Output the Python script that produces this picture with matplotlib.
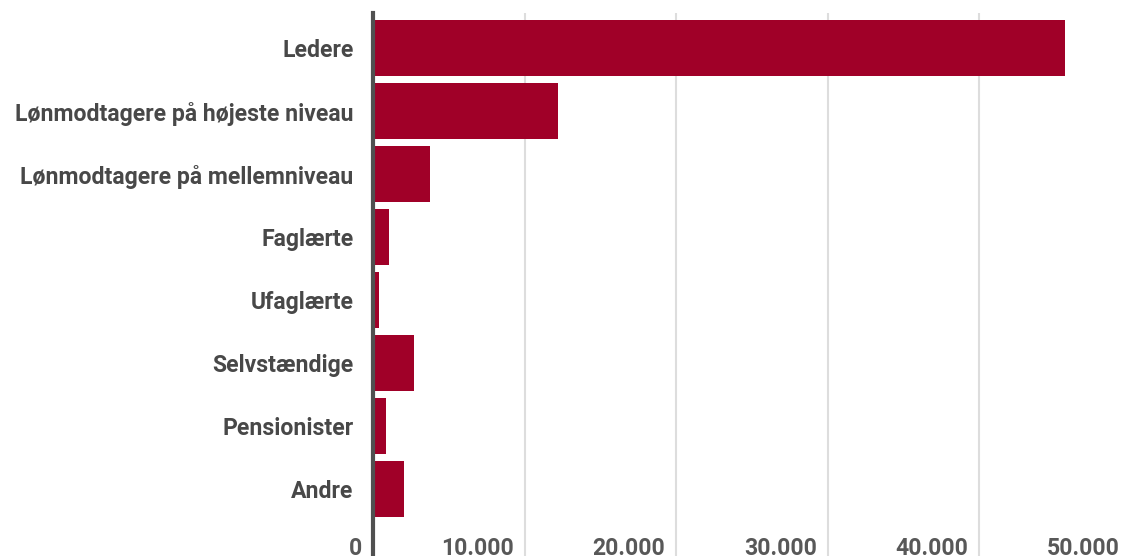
import matplotlib.pyplot as plt
from matplotlib.transforms import ScaledTranslation

categories = ["Ledere", "Lønmodtagere på højeste niveau", "Lønmodtagere på mellemniveau",
              "Faglærte", "Ufaglærte", "Selvstændige", "Pensionister", "Andre"]
values = [45650, 12200, 3760, 1075, 415, 2680, 880, 2020]
xticks = [0, 10000, 20000, 30000, 40000, 50000]
xtick_labels = ["0", "10.000", "20.000", "30.000", "40.000", "50.000"]

plt.rcParams['font.family'] = ['Roboto', 'DejaVu Sans']

W, H = 1129, 556
fig = plt.figure(figsize=(W / 100, H / 100), dpi=100)
ax = fig.add_axes([373 / W, 0, (1131 - 373) / W, 543 / H])

y = list(range(len(categories)))
ax.barh(y, values, height=0.89, color="#A00028", zorder=2)

ax.set_ylim(len(categories) - 1 + 1.06, -0.556)
ax.set_xlim(0, 50000)

ax.set_yticks(y)
ax.set_yticklabels(categories, fontsize=16.6, fontweight="bold", color="#484848")
ax.tick_params(axis="y", length=0, pad=14)

ax.set_xticks(xticks)
ax.set_xticklabels(xtick_labels, fontsize=16.6, fontweight="bold", color="#585858")
ax.tick_params(axis="x", length=0, pad=-13.5)
offset = ScaledTranslation(-11 / 100, 0, fig.dpi_scale_trans)
for lab in ax.get_xticklabels():
    lab.set_horizontalalignment("right")
    lab.set_transform(lab.get_transform() + offset)

ax.grid(axis="x", color="#dddddd", linewidth=1.5, zorder=0)
for s in ["top", "right", "bottom"]:
    ax.spines[s].set_visible(False)
ax.spines["left"].set_color("#505050")
ax.spines["left"].set_linewidth(3)
ax.spines["left"].set_zorder(3)

fig.savefig("out.png", dpi=100)
